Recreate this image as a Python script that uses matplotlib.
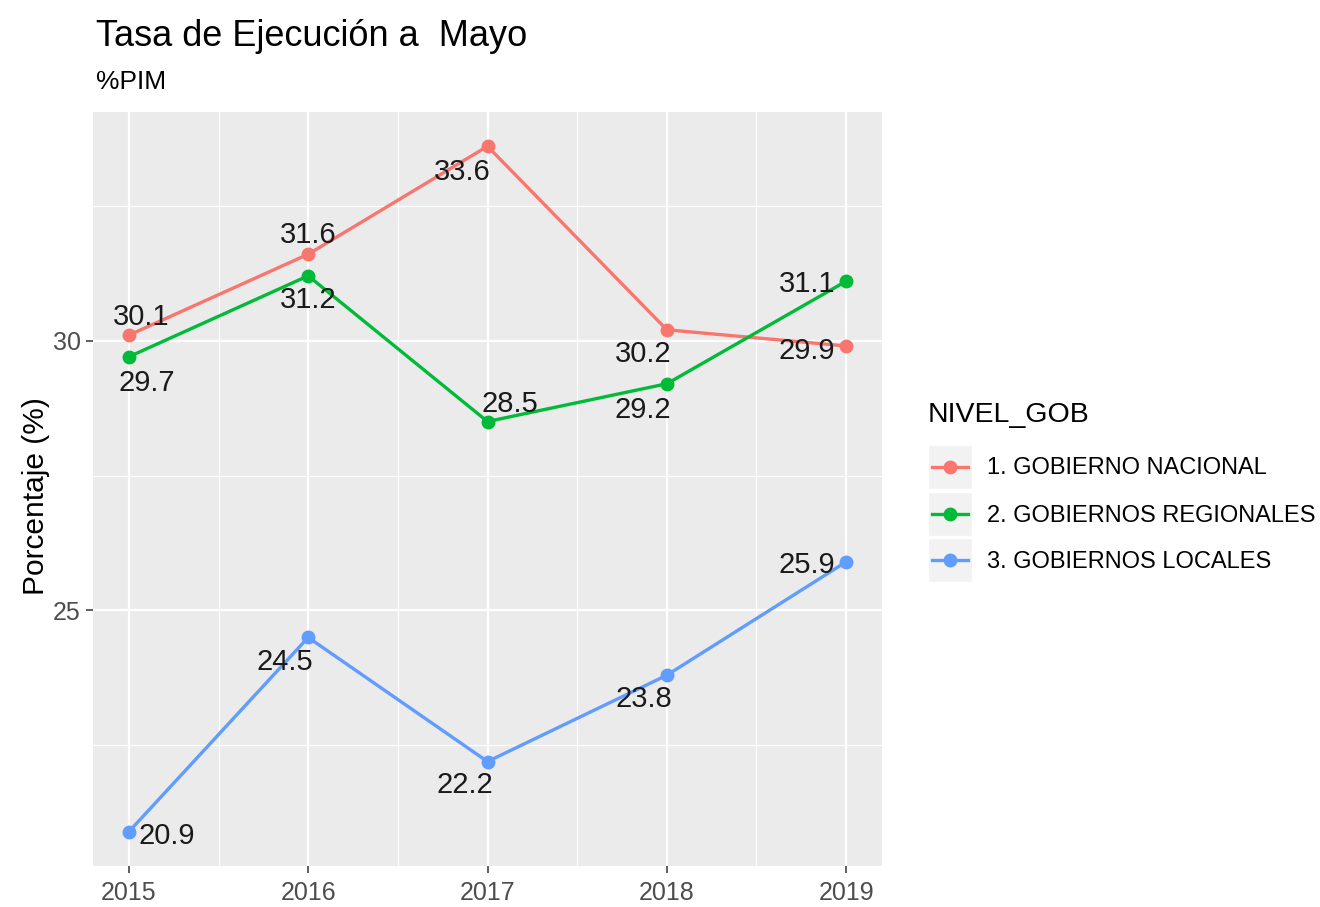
import matplotlib
matplotlib.use("Agg")
import matplotlib.pyplot as plt
from matplotlib.patches import Rectangle
from matplotlib.lines import Line2D
from matplotlib.ticker import MultipleLocator

plt.rcParams['font.family'] = ['Liberation Sans', 'DejaVu Sans']

years = [2015, 2016, 2017, 2018, 2019]
series_names = ["1. GOBIERNO NACIONAL", "2. GOBIERNOS REGIONALES", "3. GOBIERNOS LOCALES"]
nacional = [30.1, 31.6, 33.6, 30.2, 29.9]
regionales = [29.7, 31.2, 28.5, 29.2, 31.1]
locales = [20.9, 24.5, 22.2, 23.8, 25.9]
colors = ["#F8766D", "#00BA38", "#619CFF"]

# label offsets in pixels (repel-like placement)
off_nac = [(12, 18), (0, 19), (-25, -26), (-24, -24), (-39, -5)]
off_reg = [(18, -26), (0, -24), (22, 18), (-24, -26), (-39, -3)]
off_loc = [(38, -4), (-23, -25), (-23, -23), (-23, -24), (-39, -3)]

W, H = 1320, 907
fig = plt.figure(figsize=(W / 100, H / 100), dpi=100)
ax = fig.add_axes([93 / W, 1 - 866 / H, (882 - 93) / W, (866 - 112) / H])
ax.set_facecolor("#EBEBEB")

all_vals = nacional + regionales + locales
lo, hi = min(all_vals), max(all_vals)
pad = (hi - lo) * 0.05
ax.set_ylim(lo - pad, hi + pad)
xpad = (years[-1] - years[0]) * 0.05
ax.set_xlim(years[0] - xpad, years[-1] + xpad)

ax.yaxis.set_major_locator(MultipleLocator(5))
ax.yaxis.set_minor_locator(MultipleLocator(2.5))
ax.set_xticks(years)
ax.set_xticks([y + 0.5 for y in years[:-1]], minor=True)
ax.grid(which="major", color="white", linewidth=1.6)
ax.grid(which="minor", color="white", linewidth=0.8)
ax.set_axisbelow(True)
for s in ax.spines.values():
    s.set_visible(False)
ax.tick_params(which="major", length=5, width=1.1, color="#333333",
               labelsize=18, labelcolor="#4D4D4D", pad=4)
ax.tick_params(axis="x", which="major", pad=6)
ax.tick_params(which="minor", length=0)
ax.set_ylabel("Porcentaje (%)", fontsize=21.5)
ax.yaxis.set_label_coords((50 - 93) / 789, 0.49)

for vals, col, offs in zip([nacional, regionales, locales], colors, [off_nac, off_reg, off_loc]):
    ax.plot(years, vals, color=col, lw=2.4, marker="o", markersize=9, zorder=3)
    for x, v, (dx, dy) in zip(years, vals, offs):
        ax.annotate(f"{v:.1f}", (x, v), xytext=(dx, dy), textcoords="offset pixels",
                    ha="center", va="center", fontsize=21, color="#1A1A1A", zorder=4)

fig.text(96 / W, 1 - 37 / H, "Tasa de Ejecución a  Mayo", fontsize=26, va="center", ha="left")
fig.text(96 / W, 1 - 82 / H, "%PIM", fontsize=19, va="center", ha="left")

# legend
fig.text(928 / W, 1 - 415 / H, "NIVEL_GOB", fontsize=20.5, va="center", ha="left")
rows = [467, 514, 560]
for name, col, yr in zip(series_names, colors, rows):
    fig.patches.append(Rectangle((928 / W, 1 - (yr + 22) / H), 44 / W, 44 / H,
                                 transform=fig.transFigure, facecolor="#F2F2F2",
                                 edgecolor="white", lw=1))
    fig.lines.append(Line2D([932 / W, 968 / W], [1 - yr / H, 1 - yr / H],
                            transform=fig.transFigure, color=col, lw=2.4))
    fig.lines.append(Line2D([950 / W], [1 - yr / H], transform=fig.transFigure,
                            color=col, marker="o", markersize=9))
    fig.text(987 / W, 1 - (yr + 1.5) / H, name, fontsize=17, va="center", ha="left")

fig.savefig("out.png", dpi=100)
